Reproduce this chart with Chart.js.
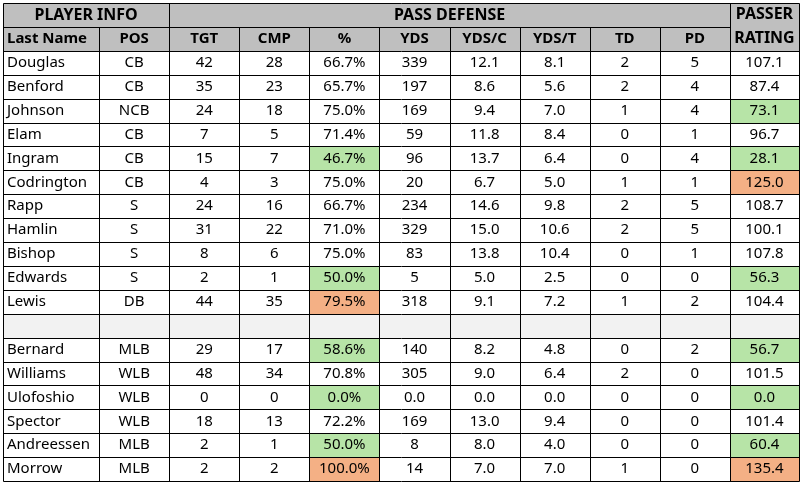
<!DOCTYPE html>
<html>
<head>
<meta charset="utf-8">
<script src="https://cdn.jsdelivr.net/npm/chart.js@4.4.1/dist/chart.umd.min.js"></script>
<style>
  html, body { margin: 0; padding: 0; background: #ffffff; }
  #wrap { width: 801px; height: 483px; }
</style>
</head>
<body>
<div id="wrap"><canvas id="table" width="801" height="483"></canvas></div>
<script>
// sheet values, one array per column (null row = blank separator)
const groupHeaders = ['PLAYER INFO', 'PASS DEFENSE', 'PASSER\nRATING'];
const columnHeaders = ['Last Name', 'POS', 'TGT', 'CMP', '%', 'YDS', 'YDS/C', 'YDS/T', 'TD', 'PD'];

const names = ['Douglas', 'Benford', 'Johnson', 'Elam', 'Ingram', 'Codrington', 'Rapp', 'Hamlin', 'Bishop', 'Edwards', 'Lewis', null,
  'Bernard', 'Williams', 'Ulofoshio', 'Spector', 'Andreessen', 'Morrow'];
const positions = ['CB', 'CB', 'NCB', 'CB', 'CB', 'CB', 'S', 'S', 'S', 'S', 'DB', null,
  'MLB', 'WLB', 'WLB', 'WLB', 'MLB', 'MLB'];
const targets = [42, 35, 24, 7, 15, 4, 24, 31, 8, 2, 44, null, 29, 48, 0, 18, 2, 2];
const completions = [28, 23, 18, 5, 7, 3, 16, 22, 6, 1, 35, null, 17, 34, 0, 13, 1, 2];
const compPct = [66.7, 65.7, 75.0, 71.4, 46.7, 75.0, 66.7, 71.0, 75.0, 50.0, 79.5, null, 58.6, 70.8, 0.0, 72.2, 50.0, 100.0];
const yards = [339, 197, 169, 59, 96, 20, 234, 329, 83, 5, 318, null, 140, 305, '0.0', 169, 8, 14];
const ydsPerCatch = [12.1, 8.6, 9.4, 11.8, 13.7, 6.7, 14.6, 15.0, 13.8, 5.0, 9.1, null, 8.2, 9.0, 0.0, 13.0, 8.0, 7.0];
const ydsPerTarget = [8.1, 5.6, 7.0, 8.4, 6.4, 5.0, 9.8, 10.6, 10.4, 2.5, 7.2, null, 4.8, 6.4, 0.0, 9.4, 4.0, 7.0];
const touchdowns = [2, 2, 1, 0, 0, 1, 2, 2, 0, 0, 1, null, 0, 2, 0, 0, 0, 1];
const passDefl = [5, 4, 4, 1, 4, 1, 5, 5, 1, 0, 2, null, 2, 0, 0, 0, 0, 0];
const rating = [107.1, 87.4, 73.1, 96.7, 28.1, 125.0, 108.7, 100.1, 107.8, 56.3, 104.4, null, 56.7, 101.5, 0.0, 101.4, 60.4, 135.4];

// layout
const COL_W = [96, 70, 70, 70, 70, 70, 70, 70, 70, 70, 69];
const COL_EDGES = COL_W.reduce((a, w) => { a.push(a[a.length - 1] + w); return a; }, [0]);
const ROWS = 2 + names.length;
const COLORS = {
  line: '#000000',
  header: '#bfbfbf',
  blank: '#f2f2f2',
  good: '#b7e4a7',
  bad: '#f4b085',
  text: '#000000',
};
const FONT = "'Noto Sans', 'DejaVu Sans', sans-serif";

// conditional formatting rules
function pctFill(v) { return v == null ? null : v < 60 ? COLORS.good : v > 77 ? COLORS.bad : null; }
function ratingFill(v) { return v == null ? null : v < 75 ? COLORS.good : v > 120 ? COLORS.bad : null; }

function fmt(v, dec) {
  if (v == null) return '';
  if (typeof v === 'string') return v;
  return dec ? v.toFixed(dec) : String(v);
}

const bodyCols = [
  { vals: names, dec: 0, align: 'left' },
  { vals: positions, dec: 0 },
  { vals: targets, dec: 0 },
  { vals: completions, dec: 0 },
  { vals: compPct, dec: 1, suffix: '%', fill: pctFill },
  { vals: yards, dec: 0 },
  { vals: ydsPerCatch, dec: 1 },
  { vals: ydsPerTarget, dec: 1 },
  { vals: touchdowns, dec: 0 },
  { vals: passDefl, dec: 0 },
  { vals: rating, dec: 1, fill: ratingFill },
];

// one anchor point per text cell
const cells = [];
cells.push({ x: (COL_EDGES[0] + COL_EDGES[2]) / 2, y: 0.5, text: groupHeaders[0], bold: true, size: 16 });
cells.push({ x: (COL_EDGES[2] + COL_EDGES[10]) / 2, y: 0.5, text: groupHeaders[1], bold: true, size: 16 });
cells.push({ x: (COL_EDGES[10] + COL_EDGES[11]) / 2, y: 1, text: groupHeaders[2], bold: true, size: 16 });
columnHeaders.forEach((h, c) => {
  cells.push({ x: (COL_EDGES[c] + COL_EDGES[c + 1]) / 2, y: 1.5, text: h, bold: true, align: c === 0 ? 'left' : 'center', col: c });
});
bodyCols.forEach((col, c) => {
  col.vals.forEach((v, r) => {
    if (v == null) return;
    cells.push({
      x: (COL_EDGES[c] + COL_EDGES[c + 1]) / 2, y: r + 2.5,
      text: fmt(v, col.dec) + (col.suffix || ''),
      align: col.align || 'center', col: c,
      fill: col.fill ? col.fill(v) : null,
    });
  });
});

const gridPlugin = {
  id: 'grid',
  beforeDatasetsDraw(chart) {
    const { ctx } = chart;
    const xs = chart.scales.x, ys = chart.scales.y;
    const px = v => Math.round(xs.getPixelForValue(v)) + 0.5;
    const py = v => Math.round(ys.getPixelForValue(v)) + 0.5;
    ctx.save();
    // header fills
    ctx.fillStyle = COLORS.header;
    ctx.fillRect(px(0), py(0), px(COL_EDGES[11]) - px(0), py(2) - py(0));
    // blank separator row
    const blankRow = names.indexOf(null) + 2;
    ctx.fillStyle = COLORS.blank;
    ctx.fillRect(px(0), py(blankRow), px(COL_EDGES[11]) - px(0), py(blankRow + 1) - py(blankRow));
    // highlight fills
    cells.forEach(c => {
      if (!c.fill) return;
      ctx.fillStyle = c.fill;
      ctx.fillRect(px(COL_EDGES[c.col]), py(c.y - 0.5), px(COL_EDGES[c.col + 1]) - px(COL_EDGES[c.col]), py(c.y + 0.5) - py(c.y - 0.5));
    });
    // lines
    ctx.strokeStyle = COLORS.line;
    ctx.lineWidth = 1;
    ctx.beginPath();
    for (let r = 0; r <= ROWS; r++) {
      const y = py(r);
      if (r === 1) {
        ctx.moveTo(px(0), y); ctx.lineTo(px(COL_EDGES[10]), y);
      } else {
        ctx.moveTo(px(0), y); ctx.lineTo(px(COL_EDGES[11]), y);
      }
    }
    COL_EDGES.forEach((e, c) => {
      const x = px(e);
      const top = (c === 0 || c === 2 || c === 10 || c === 11) ? 0 : 1;
      ctx.moveTo(x, py(top)); ctx.lineTo(x, py(ROWS));
    });
    ctx.stroke();
    ctx.restore();
  },
  afterDatasetsDraw(chart) {
    const { ctx } = chart;
    const meta = chart.getDatasetMeta(0);
    const xs = chart.scales.x;
    ctx.save();
    ctx.fillStyle = COLORS.text;
    ctx.textBaseline = 'middle';
    meta.data.forEach((pt, i) => {
      const c = cells[i];
      ctx.font = (c.bold ? 'bold ' : '') + (c.size || 15) + 'px ' + FONT;
      let x = pt.x;
      if (c.align === 'left') {
        ctx.textAlign = 'left';
        x = xs.getPixelForValue(COL_EDGES[c.col]) + 4;
      } else {
        ctx.textAlign = 'center';
      }
      const lines = c.text.split('\n');
      const lh = 24;
      lines.forEach((ln, k) => {
        ctx.fillText(ln, x, pt.y + (k - (lines.length - 1) / 2) * lh);
      });
    });
    ctx.restore();
  },
};

new Chart(document.getElementById('table'), {
  type: 'scatter',
  data: {
    datasets: [{
      data: cells.map(c => ({ x: c.x, y: c.y })),
      pointRadius: 0,
      pointHoverRadius: 0,
    }],
  },
  options: {
    responsive: false,
    animation: false,
    events: [],
    layout: { padding: { left: 3, right: 2, top: 3, bottom: 2 } },
    plugins: { legend: { display: false }, tooltip: { enabled: false } },
    scales: {
      x: { type: 'linear', display: false, min: 0, max: COL_EDGES[11] },
      y: { type: 'linear', display: false, min: 0, max: ROWS, reverse: true },
    },
  },
  plugins: [gridPlugin],
});
</script>
</body>
</html>
